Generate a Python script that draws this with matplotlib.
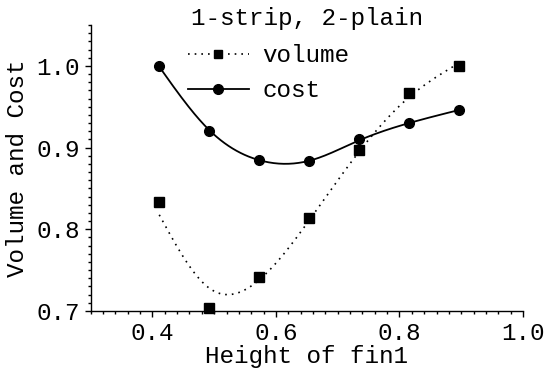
import numpy as np
import matplotlib
matplotlib.use("Agg")
import matplotlib.pyplot as plt
from matplotlib.ticker import MultipleLocator, FixedLocator

plt.rcParams['font.family'] = ['Liberation Mono', 'DejaVu Sans Mono']

# fin heights and normalised results
height = [0.411, 0.492, 0.573, 0.654, 0.735, 0.816, 0.897]
volume = [0.833, 0.704, 0.741, 0.814, 0.897, 0.967, 1.000]
cost = [1.000, 0.920, 0.885, 0.883, 0.910, 0.930, 0.946]

title = "1-strip, 2-plain"
xlabel = "Height of fin1"
ylabel = "Volume and Cost"
xticks = [0.4, 0.6, 0.8, 1.0]
yticks = [0.7, 0.8, 0.9, 1.0]

FS = 17.5


def smoothing_spline(x, y, lam, xs):
    """Natural cubic smoothing spline (Reinsch form) evaluated at xs."""
    x = np.asarray(x, float)
    y = np.asarray(y, float)
    n = len(x)
    h = np.diff(x)
    Q = np.zeros((n, n - 2))
    R = np.zeros((n - 2, n - 2))
    for j in range(1, n - 1):
        Q[j - 1, j - 1] = 1 / h[j - 1]
        Q[j, j - 1] = -1 / h[j - 1] - 1 / h[j]
        Q[j + 1, j - 1] = 1 / h[j]
        R[j - 1, j - 1] = (h[j - 1] + h[j]) / 3
        if j < n - 2:
            R[j - 1, j] = h[j] / 6
            R[j, j - 1] = h[j] / 6
    K = Q @ np.linalg.solve(R, Q.T)
    g = np.linalg.solve(np.eye(n) + lam * K, y)
    gam = np.zeros(n)
    gam[1:-1] = np.linalg.solve(R, Q.T @ g)
    idx = np.clip(np.searchsorted(x, xs) - 1, 0, n - 2)
    x0, x1 = x[idx], x[idx + 1]
    hh = x1 - x0
    a = (x1 - xs) / hh
    b = (xs - x0) / hh
    return (a * g[idx] + b * g[idx + 1]
            + ((a ** 3 - a) * gam[idx] + (b ** 3 - b) * gam[idx + 1]) * hh ** 2 / 6)


fig = plt.figure(figsize=(5.45, 3.69), dpi=100)
ax = fig.add_axes([0.1664, 0.1572, 0.9596 - 0.1664, 0.9322 - 0.1572])

xs = np.linspace(min(height), max(height), 300)
vfit = smoothing_spline(height, volume, 6e-5, xs)
cfit = smoothing_spline(height, cost, 1e-5, xs)

ax.plot(xs, vfit, color='black', lw=1.2, linestyle=(0, (1, 3)))
ax.plot(xs, cfit, color='black', lw=1.3, linestyle='-')
ax.plot(height, volume, 's', color='black', ms=6.5, clip_on=False)
ax.plot(height, cost, 'o', color='black', ms=7, clip_on=False)

# legend proxies
ax.plot([], [], color='black', lw=1.2, linestyle=(0, (1, 3)), marker='s', ms=6,
        label='volume')
ax.plot([], [], color='black', lw=1.3, linestyle='-', marker='o', ms=7,
        label='cost')
ax.legend(loc='upper left', bbox_to_anchor=(0.345, 0.88),
          bbox_transform=fig.transFigure, frameon=False, fontsize=FS,
          handlelength=2.5, handletextpad=0.55, labelspacing=0.5,
          borderpad=0, borderaxespad=0)

ax.set_xlim(0.3, 1.0)
ax.set_ylim(0.7, 1.05)
ax.xaxis.set_major_locator(FixedLocator(xticks))
ax.xaxis.set_minor_locator(MultipleLocator(0.02))
ax.yaxis.set_major_locator(FixedLocator(yticks))
ax.yaxis.set_minor_locator(MultipleLocator(0.01))
ax.set_xticklabels([f"{t:.1f}" for t in xticks])
ax.set_yticklabels([f"{t:.1f}" for t in yticks])
ax.tick_params(which='major', direction='out', length=4, width=1,
               labelsize=FS, pad=4)
ax.tick_params(which='minor', direction='out', length=2.5, width=1)

for s in ('top', 'right'):
    ax.spines[s].set_visible(False)
for s in ('left', 'bottom'):
    ax.spines[s].set_linewidth(1)

ax.set_xlabel(xlabel, fontsize=FS, labelpad=0)
ax.set_ylabel(ylabel, fontsize=FS, labelpad=5)
fig.text(0.5625, 0.95, title, ha='center', va='center', fontsize=FS)

fig.savefig("out.png", dpi=100)
